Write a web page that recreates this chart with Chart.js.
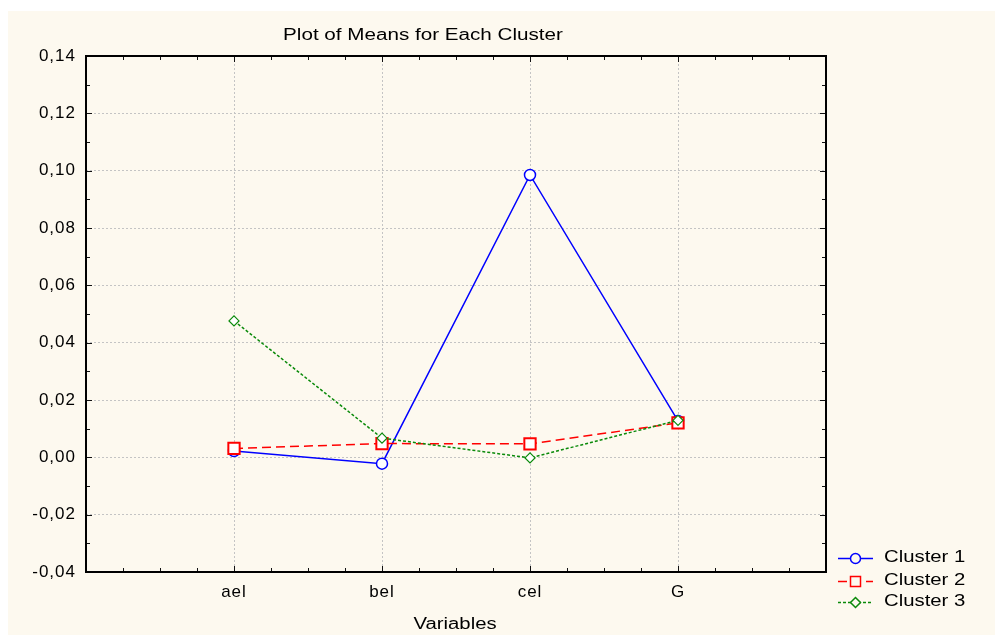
<!doctype html>
<html lang="en">
<head>
    <meta charset="utf-8">
    <title>Plot of Means for Each Cluster</title>
    <style>
        body { margin: 0; background: #fff; }
        #wrap {
            position: absolute;
            left: 8px;
            top: 11px;
            width: 987px;
            height: 624px;
            background: #fdf9ef;
        }
    </style>
</head>
<body>
<div id="wrap">
    <canvas id="myChart" width="987" height="624"></canvas>
</div>

<script src="https://cdn.jsdelivr.net/npm/chart.js"></script>
<script>
    // values
    const categories = ['ael', 'bel', 'cel', 'G'];
    const cluster1 = [0.0022, -0.0022, 0.0985, 0.0127];
    const cluster2 = [0.0031, 0.0048, 0.0047, 0.0120];
    const cluster3 = [0.0476, 0.0067, -0.0002, 0.0129];
    const yTicks = [-0.04, -0.02, 0.00, 0.02, 0.04, 0.06, 0.08, 0.10, 0.12, 0.14];

    const fontFam = '"Liberation Sans", Arial, sans-serif';

    function toPoints(arr) {
        return arr.map((v, i) => ({x: i + 1, y: v}));
    }

    // the original text is a bit wide, so stretch it horizontally
    function wideText(ctx, text, x, y, sx, align) {
        ctx.save();
        ctx.translate(x, y);
        ctx.scale(sx, 1);
        ctx.textAlign = align;
        ctx.fillText(text, 0, 0);
        ctx.restore();
    }

    // frame + inward tick marks like the old stats package draws them
    const framePlugin = {
        id: 'frame',
        beforeDraw(chart) {
            // tick labels get a little spacing too
            chart.ctx.letterSpacing = '1px';
        },
        beforeDatasetsDraw(chart) {
            const ctx = chart.ctx;
            const a = chart.chartArea;
            const xs = chart.scales.x;
            const ys = chart.scales.y;
            ctx.save();
            ctx.strokeStyle = '#111';
            ctx.lineWidth = 1;
            ctx.beginPath();
            // y ticks every 0.01, left and right
            for (let v = -0.04; v <= 0.1401; v += 0.01) {
                const py = Math.round(ys.getPixelForValue(v)) + 0.5;
                const major = Math.round(v * 100) % 2 === 0;
                const len = major ? 6 : 4;
                ctx.moveTo(a.left, py); ctx.lineTo(a.left + len, py);
                ctx.moveTo(a.right, py); ctx.lineTo(a.right - len, py);
            }
            // x ticks every 0.25, top and bottom
            for (let v = 0; v <= 5.001; v += 0.25) {
                const px = Math.round(xs.getPixelForValue(v)) + 0.5;
                const major = Math.abs(v - Math.round(v)) < 0.001;
                const len = major ? 6 : 4;
                ctx.moveTo(px, a.bottom); ctx.lineTo(px, a.bottom - len);
                ctx.moveTo(px, a.top); ctx.lineTo(px, a.top + len);
            }
            ctx.stroke();
            ctx.lineWidth = 2;
            ctx.strokeStyle = '#000';
            ctx.strokeRect(a.left, a.top, a.right - a.left, a.bottom - a.top);
            ctx.restore();
        },
        afterDraw(chart) {
            const ctx = chart.ctx;
            ctx.save();
            ctx.letterSpacing = '0px';
            ctx.fillStyle = '#000';
            ctx.font = '16px ' + fontFam;
            ctx.textBaseline = 'middle';
            wideText(ctx, 'Plot of Means for Each Cluster', 415, 25, 1.29, 'center');
            wideText(ctx, 'Variables', 447, 614, 1.27, 'center');

            // legend with line + marker
            const rows = [547, 570, 591];
            chart.data.datasets.forEach((ds, i) => {
                const y = rows[i] + 0.5;
                ctx.save();
                ctx.strokeStyle = ds.borderColor;
                ctx.lineWidth = 1.5;
                ctx.setLineDash(ds.borderDash || []);
                ctx.beginPath();
                ctx.moveTo(830, y); ctx.lineTo(865, y);
                ctx.stroke();
                ctx.setLineDash([]);
                ctx.fillStyle = '#fdf9ef';
                ctx.beginPath();
                const cx = 847.5;
                if (ds.pointStyle === 'circle') {
                    ctx.arc(cx, y, 5, 0, Math.PI * 2);
                } else if (ds.pointStyle === 'rect') {
                    ctx.rect(cx - 5, y - 5, 10, 10);
                } else {
                    ctx.moveTo(cx - 5, y); ctx.lineTo(cx, y - 5);
                    ctx.lineTo(cx + 5, y); ctx.lineTo(cx, y + 5); ctx.closePath();
                }
                ctx.fill();
                ctx.stroke();
                ctx.restore();
                wideText(ctx, ds.label, 876, rows[i], 1.27, 'left');
            });
            ctx.restore();
        }
    };

    new Chart(document.getElementById('myChart'), {
        type: 'line',
        data: {
            datasets: [{
                label: 'Cluster 1',
                data: toPoints(cluster1),
                borderColor: '#0000ff',
                borderWidth: 1.5,
                pointStyle: 'circle',
                pointRadius: 5.5,
                pointBorderWidth: 1.5,
                pointBackgroundColor: '#fff',
                order: 3
            }, {
                label: 'Cluster 2',
                data: toPoints(cluster2),
                borderColor: '#ff0000',
                borderWidth: 1.5,
                borderDash: [9, 5],
                pointStyle: 'rect',
                pointRadius: 8,
                pointBorderWidth: 2,
                pointBackgroundColor: '#fff',
                order: 2
            }, {
                label: 'Cluster 3',
                data: toPoints(cluster3),
                borderColor: '#0a8a0a',
                borderWidth: 1.5,
                borderDash: [3, 2],
                pointStyle: 'rectRot',
                pointRadius: 5,
                pointBorderWidth: 1.2,
                pointBackgroundColor: '#fff',
                order: 1
            }]
        },
        options: {
            responsive: false,
            animation: false,
            layout: {padding: {top: 45, right: 169, left: 0, bottom: 0}},
            plugins: {legend: {display: false}, tooltip: {enabled: false}, title: {display: false}},
            elements: {line: {tension: 0}},
            scales: {
                x: {
                    type: 'linear',
                    min: 0,
                    max: 5,
                    afterFit: s => { s.height = 63; },
                    afterBuildTicks: s => { s.ticks = [0, 1, 2, 3, 4, 5].map(v => ({value: v})); },
                    ticks: {
                        color: '#000',
                        padding: 10,
                        font: {family: fontFam, size: 17},
                        callback: v => categories[v - 1] || ''
                    },
                    grid: {
                        drawTicks: false,
                        color: c => (c.tick && (c.tick.value === 0 || c.tick.value === 5)) ? 'rgba(0,0,0,0)' : '#c4c4c4',
                        lineWidth: 1
                    },
                    border: {display: false, dash: [2, 2]}
                },
                y: {
                    min: -0.04,
                    max: 0.14,
                    afterFit: s => { s.width = 78; },
                    afterBuildTicks: s => { s.ticks = yTicks.map(v => ({value: v})); },
                    ticks: {
                        color: '#000',
                        padding: 10,
                        font: {family: fontFam, size: 17},
                        callback: v => v.toFixed(2).replace('.', ',')
                    },
                    grid: {
                        drawTicks: false,
                        color: c => (c.tick && (Math.abs(c.tick.value + 0.04) < 1e-6 || Math.abs(c.tick.value - 0.14) < 1e-6)) ? 'rgba(0,0,0,0)' : '#c4c4c4',
                        lineWidth: 1
                    },
                    border: {display: false, dash: [2, 2]}
                }
            }
        },
        plugins: [framePlugin]
    });
</script>
</body>
</html>
